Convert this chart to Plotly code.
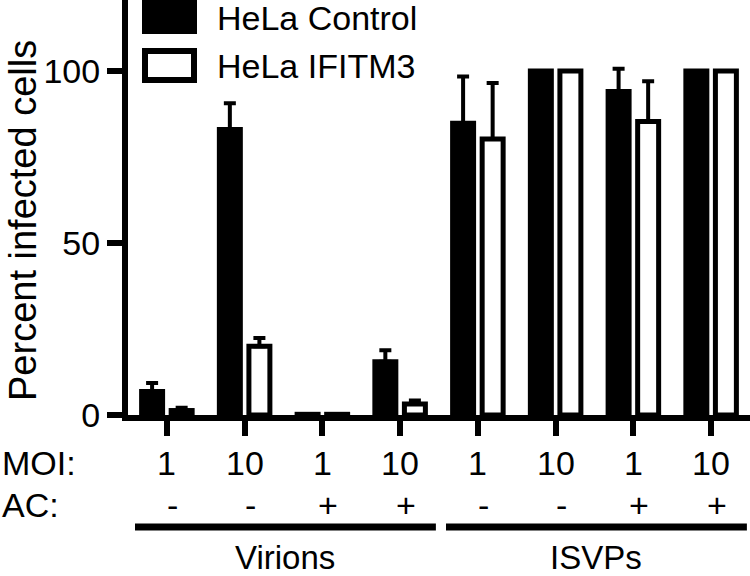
import plotly.graph_objects as go

# ---- data ----
moi_labels = ["1", "10", "1", "10", "1", "10", "1", "10"]
ac_labels = ["-", "-", "+", "+", "-", "-", "+", "+"]
groups = ["Virions", "ISVPs"]
group_members = [[0, 1, 2, 3], [4, 5, 6, 7]]
series_names = ["HeLa Control", "HeLa IFITM3"]
control_vals = [6.8, 83.0, 0.2, 15.5, 84.8, 100, 94.0, 100]
control_err = [2.5, 7.6, 0, 3.3, 13.6, 0, 6.6, 0]
ifitm3_vals = [1.3, 20.0, 0.2, 3.2, 80.2, 100, 85.3, 100]
ifitm3_err = [0.8, 2.4, 0, 1.0, 16.3, 0, 11.7, 0]
y_ticks = [0, 50, 100]

FONT = "Liberation Sans, Arial, Helvetica, sans-serif"
FS = 34
xpos = list(range(len(moi_labels)))

W, H = 750, 576
ML, MT, MB = 128, 0, 161
plot_h = H - MT - MB
plot_w = W - ML


def py(pix):
    return (H - MB - pix) / plot_h


def px(pix):
    return (pix - ML) / plot_w


fig = go.Figure()
fig.add_trace(go.Bar(
    x=xpos, y=control_vals, name=series_names[0],
    marker=dict(color="black", line=dict(color="black", width=5)),
    error_y=dict(type="data", array=control_err, arrayminus=[0] * 8, symmetric=False,
                 color="black", thickness=4, width=6),
    showlegend=False,
))
fig.add_trace(go.Bar(
    x=xpos, y=ifitm3_vals, name=series_names[1],
    marker=dict(color="white", line=dict(color="black", width=5)),
    error_y=dict(type="data", array=ifitm3_err, arrayminus=[0] * 8, symmetric=False,
                 color="black", thickness=4, width=6),
    showlegend=False,
))

fig.update_layout(
    width=W, height=H,
    margin=dict(l=ML, r=0, t=MT, b=MB),
    paper_bgcolor="white", plot_bgcolor="white",
    barmode="group", bargap=0.24, bargroupgap=0.29,
    font=dict(family=FONT, size=FS, color="black"),
    xaxis=dict(range=[-0.5, 7.5], tickvals=xpos, showticklabels=False,
               ticks="outside", ticklen=15, tickwidth=6, tickcolor="black",
               showline=True, linewidth=6, linecolor="black",
               showgrid=False, zeroline=False),
    yaxis=dict(range=[0, 120.6], tickvals=y_ticks,
               ticks="outside", ticklen=15, tickwidth=6, tickcolor="black",
               showline=True, linewidth=6, linecolor="black",
               showgrid=False, zeroline=False,
               tickfont=dict(family=FONT, size=FS)),
)

annotations = []
# y title
annotations.append(dict(text="Percent infected cells", textangle=-90,
                        xref="paper", yref="paper", x=px(23), y=py(221),
                        xanchor="center", yanchor="middle", showarrow=False,
                        borderpad=0, font=dict(size=38)))
# row labels
annotations.append(dict(text="MOI:", xref="paper", yref="paper", x=px(0), y=py(463),
                        xanchor="left", yanchor="middle", showarrow=False))
annotations.append(dict(text="AC:", xref="paper", yref="paper", x=px(0), y=py(505),
                        xanchor="left", yanchor="middle", showarrow=False))
for i, (m, a) in enumerate(zip(moi_labels, ac_labels)):
    annotations.append(dict(text=m, xref="x", yref="paper", x=i, y=py(463),
                            xanchor="center", yanchor="middle", showarrow=False))
    annotations.append(dict(text=a, xref="x", yref="paper", x=i + 0.07, y=py(505),
                            xanchor="center", yanchor="middle", showarrow=False))

shapes = []
for g, mem in zip(groups, group_members):
    x0, x1 = min(mem) - 0.41, max(mem) + 0.46
    shapes.append(dict(type="line", xref="x", yref="paper", x0=x0, x1=x1,
                       y0=py(527), y1=py(527), line=dict(color="black", width=7)))
    annotations.append(dict(text=g, xref="x", yref="paper", x=sum(mem) / len(mem) + 0.02,
                            y=py(557), xanchor="center", yanchor="middle", showarrow=False,
                            borderpad=0, font=dict(size=33)))

# legend (custom)
shapes.append(dict(type="rect", xref="paper", yref="paper", x0=px(142), x1=px(197),
                   y0=py(34), y1=py(0), fillcolor="black", line=dict(width=0)))
shapes.append(dict(type="rect", xref="paper", yref="paper", x0=px(145), x1=px(194),
                   y0=py(80), y1=py(51), fillcolor="white",
                   line=dict(color="black", width=6)))
annotations.append(dict(text=series_names[0], xref="paper", yref="paper", x=px(215), y=py(18),
                        xanchor="left", yanchor="middle", showarrow=False))
annotations.append(dict(text=series_names[1], xref="paper", yref="paper", x=px(215), y=py(66),
                        xanchor="left", yanchor="middle", showarrow=False))

fig.update_layout(annotations=annotations, shapes=shapes)
fig.write_html("out.html", config={"displayModeBar": False},
               post_script="document.body.style.margin='0';document.body.style.overflow='hidden';")
